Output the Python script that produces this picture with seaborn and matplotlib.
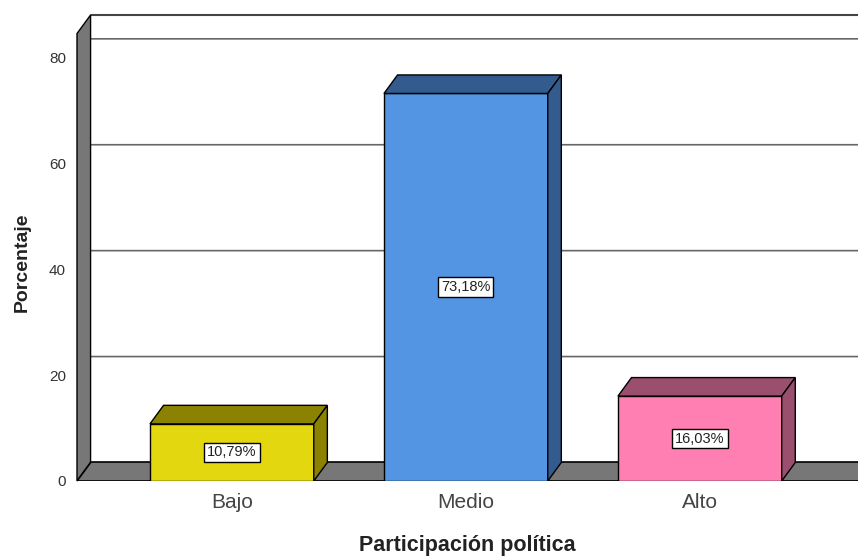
import numpy as np
import seaborn as sns
import matplotlib.pyplot as plt
import pandas as pd
from matplotlib.patches import Polygon

# datos
categorias = ['Bajo', 'Medio', 'Alto']
porcentajes = [10.79, 73.18, 16.03]
etiquetas = ['10,79%', '73,18%', '16,03%']
colores = ['#e3d80f', '#5394e3', '#ff7fb3']
colores_osc = ['#8a8200', '#345b8e', '#9b4f6e']
ticks_y = [0, 20, 40, 60, 80]

df = pd.DataFrame({'nivel': categorias, 'pct': porcentajes})

sns.set_style('white')
plt.rcParams['font.family'] = ['Liberation Sans', 'DejaVu Sans']

fig = plt.figure(figsize=(8.58, 5.56), dpi=100)
ax = fig.add_axes([77 / 858, 75 / 556, 781 / 858, 466 / 556])

x_izq, x_der = -0.662, 2.676
y_top = 88
dx, dy = 0.058, 3.5   # desplazamiento de profundidad
gris = '#777777'

# pared izquierda
ax.add_patch(Polygon([(x_izq, 0), (x_izq + dx, dy), (x_izq + dx, y_top), (x_izq, y_top - dy)],
                     closed=True, facecolor=gris, edgecolor='black', lw=1, zorder=2, clip_on=False))
# suelo
ax.add_patch(Polygon([(x_izq, 0), (x_der + 1, 0), (x_der + 1, dy), (x_izq + dx, dy)],
                     closed=True, facecolor=gris, edgecolor='black', lw=1.2, zorder=2))
# borde superior de la pared del fondo
ax.plot([x_izq + dx, x_der], [y_top, y_top], color='#444444', lw=1.5, zorder=1, clip_on=False)

# lineas de cuadricula
for v in ticks_y[1:]:
    ax.plot([x_izq, x_izq + dx, x_der], [v, v + dy, v + dy], color='#666666', lw=1.2, zorder=1)

sns.barplot(data=df, x='nivel', y='pct', hue='nivel', palette=colores, width=0.7, saturation=1,
            edgecolor='black', linewidth=1, legend=False, ax=ax, zorder=5)

barras = [p for p in ax.patches if isinstance(p, plt.Rectangle) and p.get_height() > 0]
for p, c_osc, lab in zip(barras, colores_osc, etiquetas):
    x0 = p.get_x()
    x1 = x0 + p.get_width()
    h = p.get_height()
    ax.add_patch(Polygon([(x0, h), (x1, h), (x1 + dx, h + dy), (x0 + dx, h + dy)],
                         closed=True, facecolor=c_osc, edgecolor='black', lw=1, zorder=5))
    ax.add_patch(Polygon([(x1, 0), (x1 + dx, dy), (x1 + dx, h + dy), (x1, h)],
                         closed=True, facecolor=c_osc, edgecolor='black', lw=1, zorder=5))
    ax.text((x0 + x1) / 2, h / 2, lab, ha='center', va='center', fontsize=10.5, color='#222222',
            zorder=6, bbox=dict(boxstyle='square,pad=0.2', facecolor='white', edgecolor='black', lw=1))

ax.set_xlim(x_izq, x_der)
ax.set_ylim(0, y_top)
ax.set_yticks(ticks_y)
ax.tick_params(axis='y', length=0, pad=8, labelsize=11, labelcolor='#333333')
ax.tick_params(axis='x', length=0, pad=9, labelsize=15, labelcolor='#444444')
ax.set_xlabel('')
ax.set_ylabel('')
for s in ax.spines.values():
    s.set_visible(False)

fig.text(22 / 858, 1 - 262 / 556, 'Porcentaje', rotation=90, ha='center', va='center',
         fontsize=14, fontweight='bold', color='#222222')
fig.text(467 / 858, 1 - 545 / 556, 'Participación política', ha='center', va='center',
         fontsize=15.5, fontweight='bold', color='#222222')

fig.savefig('out.png', dpi=100)
